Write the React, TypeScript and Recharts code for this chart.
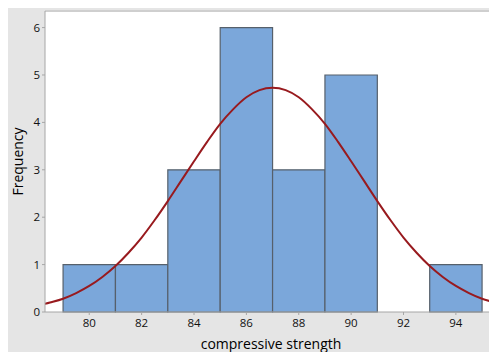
import {
  CartesianGrid,
  ComposedChart,
  Line,
  ReferenceArea,
  ReferenceLine,
  XAxis,
  YAxis,
} from "recharts";

// histogram bins (compressive strength)
const binStart = [79, 81, 83, 85, 87, 89, 91, 93];
const binEnd = [81, 83, 85, 87, 89, 91, 93, 95];
const binCount = [1, 1, 3, 6, 3, 5, 0, 1];

// fitted normal curve
const curveX = [
  78, 78.5, 79, 79.5, 80, 80.5, 81, 81.5, 82, 82.5, 83, 83.5, 84, 84.5, 85, 85.5,
  86, 86.5, 87, 87.5, 88, 88.5, 89, 89.5, 90, 90.5, 91, 91.5, 92, 92.5, 93, 93.5,
  94, 94.5, 95, 95.5, 96,
];
const curveY = [
  0.13, 0.2, 0.28, 0.4, 0.55, 0.74, 0.97, 1.25, 1.57, 1.94, 2.34, 2.76, 3.18,
  3.59, 3.97, 4.28, 4.53, 4.68, 4.73, 4.68, 4.53, 4.28, 3.97, 3.59, 3.18, 2.76,
  2.34, 1.94, 1.57, 1.25, 0.97, 0.74, 0.55, 0.4, 0.28, 0.2, 0.13,
];

const xTicks = [80, 82, 84, 86, 88, 90, 92, 94];
const yTicks = [0, 1, 2, 3, 4, 5, 6];
const xDomain: [number, number] = [78.31, 95.57];
const yMax = 6.35;

const curve = curveX.map((x, i) => ({ x, y: curveY[i] }));

const font = "'Open Sans', 'Noto Sans', sans-serif";
const tickStyle = { fontSize: 11.5, fill: "#111", fontFamily: font };

export default function App() {
  return (
    <div style={{ width: 489, height: 344, background: "#e5e5e5" }}>
      <ComposedChart
        width={489}
        height={344}
        data={curve}
        margin={{ top: 3, right: 0, bottom: 0, left: 0 }}
      >
        <CartesianGrid fill="#ffffff" horizontal={false} vertical={false} />
        {binStart.map((s, i) =>
          binCount[i] > 0 ? (
            <ReferenceArea
              key={s}
              x1={s}
              x2={binEnd[i]}
              y1={0}
              y2={binCount[i]}
              fill="#7ba7da"
              fillOpacity={1}
              stroke="#56606b"
              strokeWidth={1.2}
            />
          ) : null
        )}
        <ReferenceLine y={yMax} stroke="#cfcfcf" strokeWidth={2} />
        <XAxis
          dataKey="x"
          type="number"
          domain={xDomain}
          allowDataOverflow
          ticks={xTicks}
          height={40}
          tickSize={3}
          tickMargin={4}
          stroke="#a6a6a6"
          tick={tickStyle}
          label={{
            value: "compressive strength",
            position: "insideBottom",
            offset: 3,
            style: { fontSize: 14, fill: "#000", fontFamily: font, fontWeight: 500 },
          }}
        />
        <YAxis
          type="number"
          domain={[0, yMax]}
          allowDataOverflow
          ticks={yTicks}
          width={37}
          tickSize={3}
          tickMargin={2}
          stroke="#a6a6a6"
          tick={tickStyle}
          label={{
            value: "Frequency",
            angle: -90,
            position: "insideLeft",
            offset: 10,
            style: {
              fontSize: 14,
              fill: "#000",
              fontFamily: font,
              fontWeight: 500,
              textAnchor: "middle",
            },
          }}
        />
        <Line
          type="monotone"
          dataKey="y"
          stroke="#981a1e"
          strokeWidth={2}
          dot={false}
          activeDot={false}
          isAnimationActive={false}
        />
      </ComposedChart>
    </div>
  );
}
